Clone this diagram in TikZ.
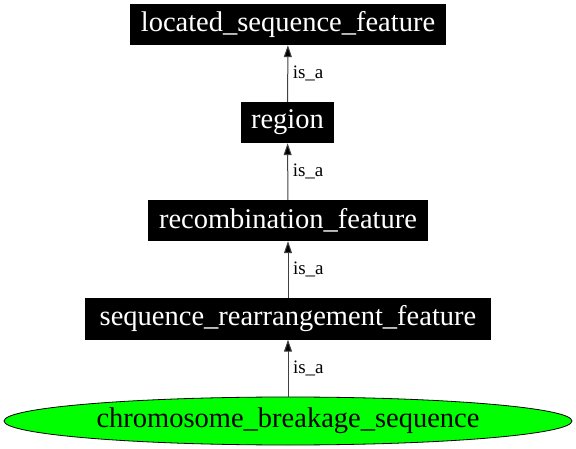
\documentclass[tikz,border=0pt]{standalone}
\usepackage{fontspec}
\setmainfont{Liberation Serif}
\usetikzlibrary{arrows.meta,shapes.geometric}
\begin{document}
\begin{tikzpicture}[x=1pt,y=-1pt,
  term/.style={fill=black,text=white,font=\fontsize{28.5}{30}\selectfont,inner sep=0pt,minimum height=41pt},
  leaf/.style={ellipse,fill={rgb,255:red,0;green,255;blue,0},draw=black,line width=0.8pt,font=\fontsize{28.5}{30}\selectfont,inner sep=0pt,minimum width=568pt,minimum height=48pt},
  isa/.style={draw=black!75,line width=1pt,-{Triangle[length=12pt,width=8pt,fill=black]}},
  lbl/.style={font=\fontsize{19}{20}\selectfont,anchor=west,inner sep=0pt,xshift=4.5pt}]
\useasboundingbox (0,0) rectangle (576,449);
\node[term,minimum width=316pt] (lsf) at (288,24.5) {located\_sequence\_feature};
\node[term,minimum width=93pt] (reg) at (287.5,122.5) {region};
\node[term,minimum width=280pt] (rec) at (288,220.5) {recombination\_feature};
\node[term,minimum width=406pt] (srf) at (288,319) {sequence\_rearrangement\_feature};
\node[leaf] (csb) at (288,421) {chromosome\_breakage\_sequence};
\draw[isa] (reg) -- (lsf) node[lbl,midway] {is\_a};
\draw[isa] (rec) -- (reg) node[lbl,midway] {is\_a};
\draw[isa] (srf) -- (rec) node[lbl,midway] {is\_a};
\draw[isa] (csb) -- (srf) node[lbl,midway] {is\_a};
\end{tikzpicture}
\end{document}
